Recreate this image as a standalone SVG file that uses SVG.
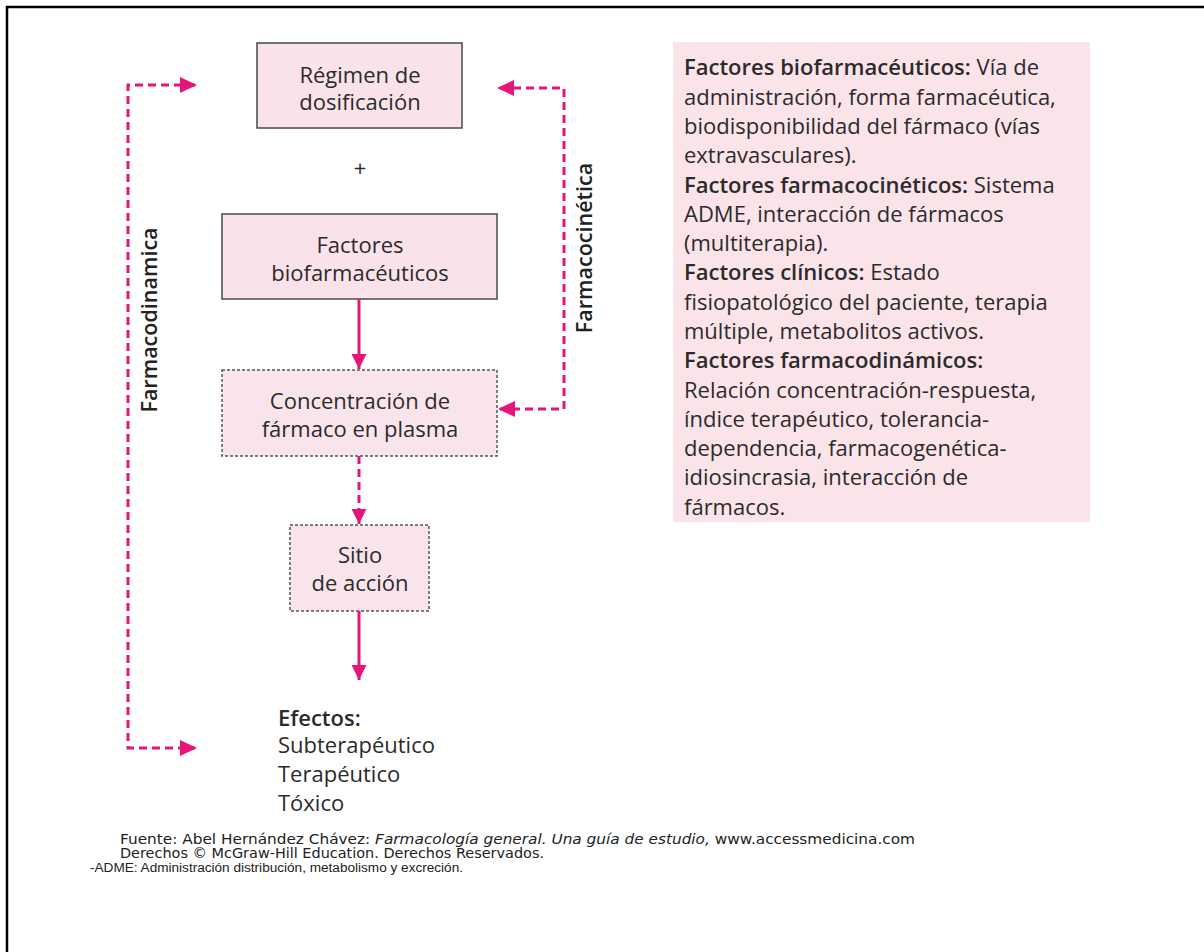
<svg xmlns="http://www.w3.org/2000/svg" width="1204" height="952" viewBox="0 0 1204 952">
<defs>
<style>
.box{fill:#f9e2ea;stroke:#4a4a4a;stroke-width:1.5}
.dbox{fill:#f9e4eb;stroke:#555;stroke-width:1.5;stroke-dasharray:3 2}
.t{font-family:"Open Sans","Lato",sans-serif;font-size:22px;fill:#2b2b2b}
.c{text-anchor:middle}
.b{font-weight:600}
.conn{stroke:#e5157a;stroke-width:3;fill:none}
.dash{stroke-dasharray:8 5}
.lbl{font-family:"Open Sans","Lato",sans-serif;font-size:21.5px;font-weight:600;fill:#222;text-anchor:middle}
.foot{font-family:"DejaVu Sans",sans-serif;font-size:13.5px;fill:#222}
</style>
<marker id="ah" viewBox="0 0 10 10" refX="10" refY="5" markerWidth="5" markerHeight="5" orient="auto" markerUnits="strokeWidth">
<path d="M0,0 L10,5 L0,10 Z" fill="#e5157a"/>
</marker>
</defs>
<rect width="1204" height="952" fill="#fff"/>
<path d="M7,952 L7,7 L1204,7" fill="none" stroke="#000" stroke-width="2.5"/>

<g id="panel">
<rect x="673" y="42" width="417" height="480" fill="#fbe3ea"/>
<text class="t" x="684" y="75"><tspan class="b">Factores biofarmacéuticos:</tspan> Vía de</text>
<text class="t" x="684" y="105">administración, forma farmacéutica,</text>
<text class="t" x="684" y="134">biodisponibilidad del fármaco (vías</text>
<text class="t" x="684" y="163">extravasculares).</text>
<text class="t" x="684" y="193"><tspan class="b">Factores farmacocinéticos:</tspan> Sistema</text>
<text class="t" x="684" y="222">ADME, interacción de fármacos</text>
<text class="t" x="684" y="251">(multiterapia).</text>
<text class="t" x="684" y="280"><tspan class="b">Factores clínicos:</tspan> Estado</text>
<text class="t" x="684" y="310">fisiopatológico del paciente, terapia</text>
<text class="t" x="684" y="339">múltiple, metabolitos activos.</text>
<text class="t b" x="684" y="368">Factores farmacodinámicos:</text>
<text class="t" x="684" y="398">Relación concentración-respuesta,</text>
<text class="t" x="684" y="427">índice terapéutico, tolerancia-</text>
<text class="t" x="684" y="456">dependencia, farmacogenética-</text>
<text class="t" x="684" y="485">idiosincrasia, interacción de</text>
<text class="t" x="684" y="515">fármacos.</text>
</g>

<g id="regimen">
<rect class="box" x="257" y="43" width="205" height="85"/>
<text class="t c" x="360" y="83">Régimen de</text>
<text class="t c" x="360" y="110">dosificación</text>
</g>
<g id="plus"><text class="t c" x="360" y="176">+</text></g>
<g id="factores">
<rect class="box" x="222" y="214" width="275" height="85"/>
<text class="t c" x="360" y="253">Factores</text>
<text class="t c" x="360" y="281">biofarmacéuticos</text>
</g>
<g id="concentracion">
<rect class="dbox" x="222" y="370" width="275" height="86"/>
<text class="t c" x="360" y="409">Concentración de</text>
<text class="t c" x="360" y="437">fármaco en plasma</text>
</g>
<g id="sitio">
<rect class="dbox" x="290" y="525" width="139" height="86"/>
<text class="t c" x="360" y="563">Sitio</text>
<text class="t c" x="360" y="591">de acción</text>
</g>
<g id="efectos">
<text class="t b" x="278" y="726">Efectos:</text>
<text class="t" x="278" y="753">Subterapéutico</text>
<text class="t" x="278" y="782">Terapéutico</text>
<text class="t" x="278" y="811">Tóxico</text>
</g>

<g id="connectors">
<path class="conn" d="M359,299 L359,369" marker-end="url(#ah)"/>
<path class="conn dash" d="M359,456 L359,524" marker-end="url(#ah)"/>
<path class="conn" d="M359,611 L359,680" marker-end="url(#ah)"/>
<path class="conn dash" d="M195,85 L128,85 L128,748 L195,748"/>
<path d="M180,77 L197,85 L180,93 Z" fill="#e5157a"/>
<path d="M180,740 L197,748 L180,756 Z" fill="#e5157a"/>
<path class="conn dash" d="M500,88 L564,88 L564,409 L500,409"/>
<path d="M514,80 L497,88 L514,96 Z" fill="#e5157a"/>
<path d="M515,401 L498,409 L515,417 Z" fill="#e5157a"/>
<text class="lbl" transform="translate(157,320) rotate(-90)">Farmacodinamica</text>
<text class="lbl" transform="translate(592,248) rotate(-90)">Farmacocinética</text>
</g>

<g id="footer">
<text class="foot" x="120" y="844" textLength="795" lengthAdjust="spacingAndGlyphs">Fuente: Abel Hernández Chávez: <tspan font-style="italic">Farmacología general. Una guía de estudio,</tspan> www.accessmedicina.com</text>
<text class="foot" x="120" y="858" textLength="424" lengthAdjust="spacingAndGlyphs">Derechos © McGraw-Hill Education. Derechos Reservados.</text>
<text x="90" y="872" textLength="373" lengthAdjust="spacingAndGlyphs" style="font-family:'Liberation Sans Narrow','Liberation Sans',sans-serif;font-size:12.5px;fill:#222">-ADME: Administración distribución, metabolismo y excreción.</text>
</g>
</svg>
